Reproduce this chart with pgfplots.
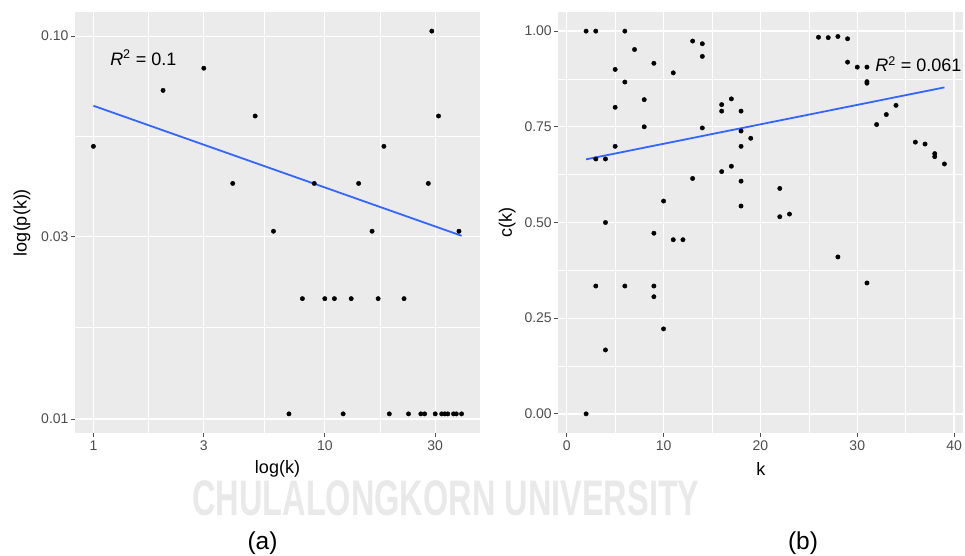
\documentclass[border=0pt]{standalone}
\usepackage{fontspec}
\setmainfont{Liberation Sans}
\usepackage{graphicx}
\usepackage{pgfplots}
\pgfplotsset{compat=1.18}
\definecolor{ggbg}{HTML}{EBEBEB}
\definecolor{ggtick}{HTML}{4D4D4D}
\definecolor{ggblue}{HTML}{3366FF}
\definecolor{wm}{HTML}{E9E9E9}
\pgfplotsset{ggstyle/.style={
  scale only axis, width=405pt, height=421pt, anchor=south west,
  axis background/.style={fill=ggbg},
  axis line style={draw=none},
  grid=both,
  major grid style={white, line width=1.3pt},
  minor grid style={white, line width=0.6pt},
  tick pos=left, tick align=outside,
  major tick length=4pt, minor tick length=0pt,
  tick style={ggtick, line width=0.8pt},
  ticklabel style={font=\fontsize{14}{16}\selectfont, text=ggtick},
  xticklabel style={yshift=0pt},
  yticklabel style={xshift=1pt},
  every axis x label/.style={at={(rel axis cs:0.5,0)}, anchor=center, yshift=-36pt, font=\fontsize{18}{20}\selectfont, text=black},
  clip=false,
}}
\begin{document}
\begin{tikzpicture}
\useasboundingbox (0,0) rectangle (965pt,556pt);
\node[text=wm, font=\bfseries\fontsize{50}{50}\selectfont, inner sep=0pt] at (446pt,58pt) {\scalebox{0.65}[1]{CHULALONGKORN UNIVERSITY}};

\begin{axis}[ggstyle, at={(75pt,123pt)},
  xmode=log, ymode=log,
  xmin=0.8326, xmax=46.84, ymin=0.009188, ymax=0.11565,
  xtick={1,3,10,30}, xticklabels={1,3,10,30},
  minor xtick={1.732,5.477,17.32},
  ytick={0.01,0.03,0.1}, yticklabels={0.01,0.03,0.10},
  minor ytick={0.01732,0.05477},
  xlabel={log(k)}, ylabel={log(p(k))},
  every axis y label/.style={at={(rel axis cs:0,0.5)}, xshift=-53pt, rotate=90, anchor=center, font=\fontsize{18}{20}\selectfont, text=black},
]
\addplot[only marks, mark=*, mark size=2.2pt, black] coordinates {
(1,0.051546) (2,0.072165) (3,0.082474) (4,0.041237) (5,0.061856) (6,0.030928)
(7,0.010309) (8,0.020619) (9,0.041237) (10,0.020619) (11,0.020619) (12,0.010309)
(13,0.020619) (14,0.041237) (16,0.030928) (17,0.020619) (18,0.051546) (19,0.010309)
(22,0.020619) (23,0.010309) (26,0.010309) (27,0.010309) (28,0.041237) (29,0.103093)
(30,0.010309) (31,0.061856) (32,0.010309) (33,0.010309) (34,0.010309) (36,0.010309)
(37,0.010309) (38,0.030928) (39,0.010309)
};
\addplot[ggblue, line width=1.8pt, no marks] coordinates {(1,0.0658) (39,0.0301)};
\node[anchor=west, font=\fontsize{18}{20}\selectfont, inner sep=0pt] at (axis cs:1.18,0.0879) {\textit{R}\textsuperscript{2} = 0.1};
\end{axis}

\begin{axis}[ggstyle, at={(558.3pt,123pt)},
  xmin=-0.87, xmax=40.95, ymin=-0.05, ymax=1.05,
  xtick={0,10,20,30,40}, xticklabels={0,10,20,30,40},
  minor xtick={5,15,25,35},
  ytick={0,0.25,0.5,0.75,1}, yticklabels={0.00,0.25,0.50,0.75,1.00},
  minor ytick={0.125,0.375,0.625,0.875},
  xlabel={k}, ylabel={c(k)},
  every axis y label/.style={at={(rel axis cs:0,0.5)}, xshift=-51pt, rotate=90, anchor=center, font=\fontsize{18}{20}\selectfont, text=black},
]
\addplot[only marks, mark=*, mark size=2.2pt, black] coordinates {
(2,1.0) (3,1.0) (6,1.0) (7,0.952) (13,0.974) (14,0.967) (14,0.934) (9,0.916)
(5,0.900) (11,0.891) (6,0.867) (8,0.821) (5,0.801) (8,0.750) (14,0.747) (5,0.699)
(3,0.666) (4,0.666) (4,0.500) (9,0.472) (11,0.455) (12,0.455) (10,0.556) (13,0.615)
(3,0.334) (6,0.334) (9,0.334) (9,0.306) (10,0.222) (4,0.167) (2,0.0)
(16,0.808) (16,0.791) (17,0.823) (18,0.791) (18,0.739) (19,0.720) (18,0.699)
(17,0.647) (16,0.633) (18,0.608) (18,0.543) (22,0.589) (22,0.515) (23,0.522)
(26,0.984) (27,0.983) (28,0.986) (29,0.980) (29,0.919) (30,0.906) (31,0.906)
(31,0.868) (31,0.864) (28,0.410) (31,0.342) (32,0.756) (33,0.782) (34,0.806)
(36,0.710) (37,0.705) (38,0.680) (38,0.672) (39,0.653)
};
\addplot[ggblue, line width=1.8pt, no marks] coordinates {(2,0.665) (39,0.853)};
\node[anchor=west, font=\fontsize{18}{20}\selectfont, inner sep=0pt] at (axis cs:31.84,0.914) {\textit{R}\textsuperscript{2} = 0.061};
\end{axis}

\node[font=\fontsize{24.5}{26}\selectfont] at (262.5pt,13pt) {(a)};
\node[font=\fontsize{24.5}{26}\selectfont] at (803pt,13pt) {(b)};
\end{tikzpicture}
\end{document}
